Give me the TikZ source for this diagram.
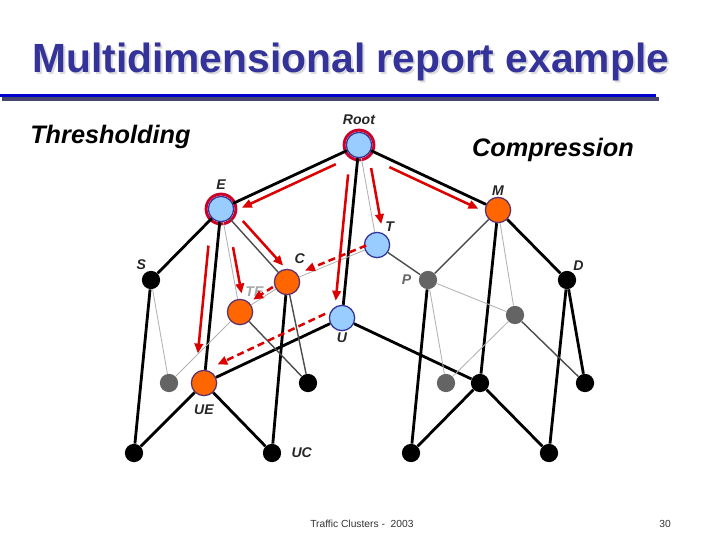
\documentclass[tikz,border=0pt]{standalone}
\usepackage{fontspec}
\setmainfont{Liberation Sans}
\usetikzlibrary{arrows.meta,calc}
\definecolor{ttlblue}{RGB}{51,51,153}
\definecolor{rulblue}{RGB}{0,0,204}
\definecolor{rulshade}{RGB}{70,70,110}
\definecolor{ndblue}{RGB}{153,204,255}
\definecolor{ndorange}{RGB}{255,102,0}
\definecolor{ndrim}{RGB}{90,50,110}
\definecolor{ndgray}{RGB}{100,100,100}
\definecolor{arrred}{RGB}{220,0,0}
\definecolor{ringred}{RGB}{204,0,40}

\begin{document}
\begin{tikzpicture}[
  x=0.025cm, y=-0.025cm,
  bnode/.style={circle,fill=ndblue,draw=ttlblue,line width=0.9pt,minimum size=18pt,inner sep=0pt},
  onode/.style={circle,fill=ndorange,draw=ndrim,line width=0.9pt,minimum size=18pt,inner sep=0pt},
  knode/.style={circle,fill=black,minimum size=13pt,inner sep=0pt},
  gnode/.style={circle,fill=ndgray,minimum size=13pt,inner sep=0pt},
  lbl/.style={font=\fontsize{10}{12}\selectfont\bfseries\itshape,inner sep=1pt,text=black!85},
  thickedge/.style={line width=2pt,black},
  midedge/.style={line width=1pt,black!70},
  thinedge/.style={line width=0.6pt,black!30},
  redarr/.style={line width=1.8pt,arrred,-{Triangle[length=7pt,width=6pt]}},
  reddash/.style={redarr,dash pattern=on 5pt off 3pt},
  ring/.style={ringred,line width=2.1pt},
  ttl/.style={font=\fontsize{29}{34}\selectfont\bfseries,anchor=base west,inner sep=0pt},
  side/.style={font=\fontsize{18}{22}\selectfont\bfseries\itshape,inner sep=0pt},
  foot/.style={font=\fontsize{7.3}{9}\selectfont,text=black!80,anchor=base west,inner sep=0pt},
]
  \useasboundingbox[fill=white] (0,0) rectangle (720,540);

  % Title and rule
  \node[ttl,text=black!14] (ttlshade) at (34,74) {Multidimensional report example};
  \node[ttl,text=ttlblue] (ttl) at (32,72) {Multidimensional report example};
  \draw[line width=2.2pt,rulshade] (2,99) -- (659,99);
  \draw[line width=2.4pt,rulblue] (0,95.5) -- (656,95.5);

  \node[side,anchor=base west] (thr) at (30,143) {Thresholding};
  \node[side,anchor=base] (cmp) at (553,156) {Compression};

  % Lattice nodes
  \node[bnode,label={[lbl,label distance=4pt]above:Root}] (root) at (359,145) {};
  \node[bnode,label={[lbl,label distance=3.5pt]above:E}] (e) at (221,209) {};
  \node[onode,label={[lbl]above:M}] (m) at (498,210) {};
  \node[bnode,label={[lbl]60:T}] (t) at (377,245) {};
  \node[knode,label={[lbl]110:S}] (s) at (151,280) {};
  \node[onode,label={[lbl,label distance=3pt]70:C}] (c) at (287,282) {};
  \node[gnode,label={[lbl,text=black!60,label distance=4pt]left:P}] (p) at (428,280) {};
  \node[knode,label={[lbl]60:D}] (d) at (567,280) {};
  \node[onode,label={[lbl,text=black!35,label distance=1pt]75:TE}] (te) at (240,312) {};
  \node[bnode,label={[lbl]below:U}] (u) at (342,318) {};
  \node[gnode] (pd) at (515,315) {};
  \node[gnode] (gs) at (169,383) {};
  \node[onode,label={[lbl,label distance=5pt]below:UE}] (ue) at (204,383) {};
  \node[knode] (kc) at (308,383) {};
  \node[gnode] (gp) at (446,383) {};
  \node[knode] (ku) at (480,383) {};
  \node[knode] (kd) at (585,383) {};
  \node[knode] (bs) at (134,453) {};
  \node[knode,label={[lbl,label distance=6pt]right:UC}] (uc) at (272,453) {};
  \node[knode] (bp) at (411,453) {};
  \node[knode] (bd) at (549,453) {};

  \draw[ring] (root) circle[radius=10.6pt];
  \draw[ring] (e) circle[radius=10.6pt];

  % Edges
  \foreach \a/\b in {root/e,root/m,root/u,e/s,e/ue,s/bs,m/d,m/ku,d/kd,d/bd,
                     u/ue,u/ku,ue/bs,ue/uc,c/uc,ku/bp,ku/bd,p/bp}
    \draw[thickedge] (\a) -- (\b);
  \foreach \a/\b in {e/c,m/p,c/kc,te/kc,pd/kd,t/p}
    \draw[midedge] (\a) -- (\b);
  \foreach \a/\b in {root/t,e/te,c/te,c/t,s/gs,te/gs,p/gp,p/pd,m/pd,pd/gp}
    \draw[thinedge] (\a) -- (\b);

  % Thresholding / compression steps
  \draw[redarr] ($(root)!.19!(e)+(3,7)$) -- ($(root)!.87!(e)+(3,7)$);
  \draw[redarr] ($(root)!.24!(m)+(-3,6.5)$) -- ($(root)!.88!(m)+(-3,6.5)$);
  \draw[redarr] ($(root)!.17!(u)+(-8,0)$) -- ($(root)!.90!(u)+(-8,0)$);
  \draw[redarr] ($(root)!.23!(t)+(8,0)$) -- ($(root)!.79!(t)+(8,0)$);
  \draw[redarr] ($(e)!.24!(c)+(6,-5.5)$) -- ($(e)!.85!(c)+(6,-5.5)$);
  \draw[redarr] ($(e)!.37!(te)+(5,0)$) -- ($(e)!.82!(te)+(5,0)$);
  \draw[redarr] ($(e)!.21!(ue)+(-9,0)$) -- ($(e)!.83!(ue)+(-9,0)$);
  \draw[reddash] ($(t)!.12!(c)+(0,-4)$) -- ($(t)!.80!(c)+(0,-4)$);
  \draw[reddash] ($(c)!.30!(te)+(0,-4)$) -- ($(c)!.72!(te)+(0,-4)$);
  \draw[reddash] ($(u)!.09!(ue)+(-4.5,-10)$) -- ($(u)!.87!(ue)+(-4.5,-10)$);

  % Footer
  \node[foot] (ftxt) at (310,527) {Traffic Clusters -\ \ 2003};
  \node[foot] (fnum) at (659,527) {30};
\end{tikzpicture}
\end{document}
